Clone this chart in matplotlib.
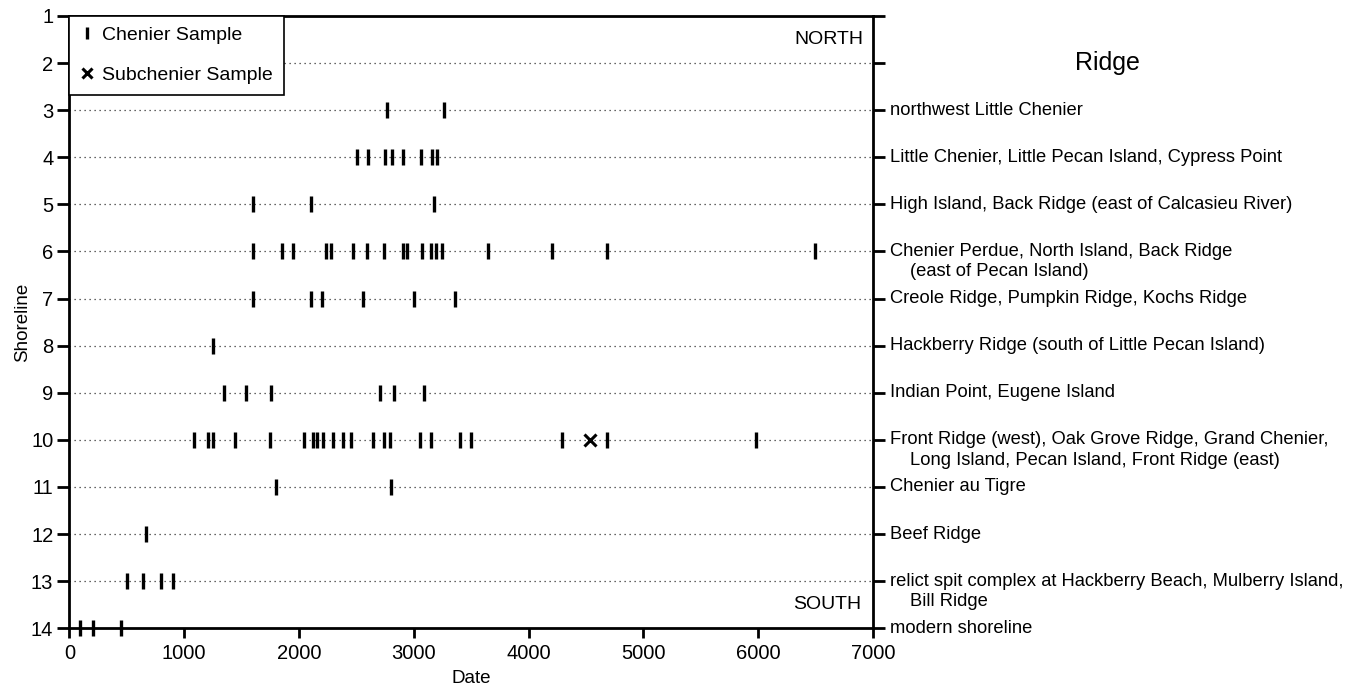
import matplotlib
matplotlib.use("Agg")
import matplotlib.pyplot as plt

plt.rcParams['font.family'] = ['Liberation Sans', 'DejaVu Sans']

# chenier sample dates by shoreline
shore3 = [2770, 3260]
shore4 = [2510, 2600, 2750, 2810, 2905, 3065, 3160, 3200]
shore5 = [1600, 2105, 3180]
shore6 = [1600, 1850, 1945, 2240, 2280, 2475, 2595, 2745, 2910, 2945,
          3075, 3150, 3195, 3245, 3645, 4200, 4685, 6495]
shore7 = [1600, 2105, 2205, 2555, 3000, 3355]
shore8 = [1250]
shore9 = [1345, 1540, 1755, 2705, 2825, 3090]
shore10 = [1090, 1210, 1250, 1445, 1750, 2045, 2120, 2160, 2210, 2295,
           2380, 2455, 2645, 2740, 2795, 3055, 3150, 3405, 3500, 4295,
           4685, 5980]
shore11 = [1800, 2800]
shore12 = [665]
shore13 = [505, 640, 800, 900]
shore14 = [95, 205, 450]

# subchenier samples
sub_shore = [10]
sub_dates = [4535]

shorelines = list(range(3, 15))
chenier = [shore3, shore4, shore5, shore6, shore7, shore8, shore9,
           shore10, shore11, shore12, shore13, shore14]

ridges = [
    ("northwest Little Chenier", None),
    ("Little Chenier, Little Pecan Island, Cypress Point", None),
    ("High Island, Back Ridge (east of Calcasieu River)", None),
    ("Chenier Perdue, North Island, Back Ridge", "(east of Pecan Island)"),
    ("Creole Ridge, Pumpkin Ridge, Kochs Ridge", None),
    ("Hackberry Ridge (south of Little Pecan Island)", None),
    ("Indian Point, Eugene Island", None),
    ("Front Ridge (west), Oak Grove Ridge, Grand Chenier,",
     "Long Island, Pecan Island, Front Ridge (east)"),
    ("Chenier au Tigre", None),
    ("Beef Ridge", None),
    ("relict spit complex at Hackberry Beach, Mulberry Island,", "Bill Ridge"),
    ("modern shoreline", None),
]

fig, ax = plt.subplots(1, figsize=(13.57, 6.89), dpi=100)
plt.subplots_adjust(left=0.0511, right=0.6433, top=0.9768, bottom=0.0881)

# dotted guide lines
for s in range(2, 14):
    ax.plot([0, 7000], [s, s], linestyle=(0, (1, 3)), color='#333333',
            linewidth=0.9, zorder=1)

for s, dates in zip(shorelines, chenier):
    ax.plot(dates, [s] * len(dates), linestyle='none', marker='|',
            markersize=11, markeredgewidth=2.4, color='black',
            zorder=5, clip_on=False)
ax.plot(sub_dates, sub_shore, linestyle='none', marker='x', markersize=8,
        markeredgewidth=2.2, color='black', zorder=5)

ax.set_xlim(0, 7000)
ax.set_ylim(14, 1)
ax.set_yticks(range(1, 15))
ax.set_xticks(range(0, 7001, 1000))
ax.tick_params(axis='y', left=True, right=True, direction='out',
               length=8.5, width=2, labelsize=14.5, pad=3)
ax.tick_params(axis='x', direction='out', length=7, width=2,
               labelsize=14.5, pad=4)
for sp in ax.spines.values():
    sp.set_linewidth(2)
    sp.set_zorder(4)

ax.set_xlabel("Date", fontsize=13.5, labelpad=5)
ax.set_ylabel("Shoreline", fontsize=13.5, labelpad=0)

# ridge names on the right side
for s, (line1, line2) in zip(shorelines, ridges):
    ax.annotate(line1, xy=(1, s), xycoords=('axes fraction', 'data'),
                xytext=(12, 0), textcoords='offset points',
                va='center', ha='left', fontsize=13.2)
    if line2:
        ax.annotate(line2, xy=(1, s), xycoords=('axes fraction', 'data'),
                    xytext=(27, -14.5), textcoords='offset points',
                    va='center', ha='left', fontsize=13.2)
ax.annotate("Ridge", xy=(1, 2.0), xycoords=('axes fraction', 'data'),
            xytext=(169, 0), textcoords='offset points',
            va='center', ha='center', fontsize=18)

ax.text(0.988, 1.5, "NORTH", ha='right', va='center', fontsize=14,
        transform=ax.get_yaxis_transform())
ax.text(0.985, 13.5, "SOUTH", ha='right', va='center', fontsize=14,
        transform=ax.get_yaxis_transform())

h1, = ax.plot([], [], linestyle='none', marker='|', markersize=9,
              markeredgewidth=2.4, color='black')
h2, = ax.plot([], [], linestyle='none', marker='x', markersize=7,
              markeredgewidth=2.2, color='black')
leg = ax.legend([h1, h2], ["Chenier Sample", "Subchenier Sample"],
                loc='upper left', borderaxespad=0, fancybox=False,
                fontsize=14, handlelength=0.7, handletextpad=0.45,
                labelspacing=1.15, borderpad=0.55, framealpha=1)
leg.get_frame().set_edgecolor('black')
leg.get_frame().set_linewidth(1.2)
leg.set_zorder(6)

plt.savefig("out.png", dpi=100)
plt.close()
